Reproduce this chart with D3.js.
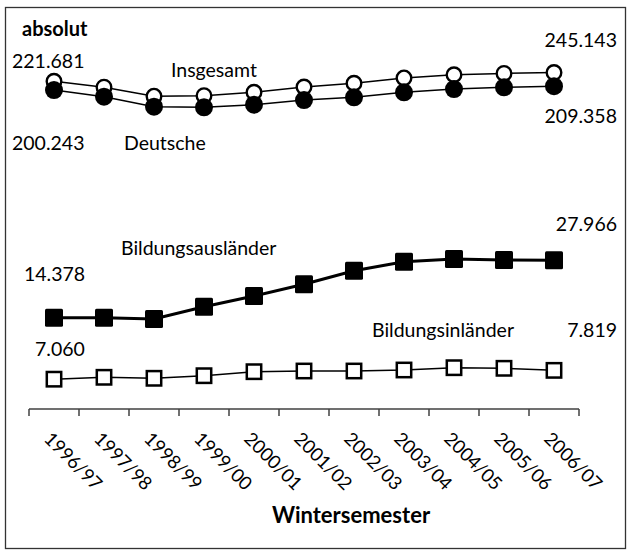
<!DOCTYPE html>
<html>
<head>
<meta charset="utf-8">
<script src="https://cdn.jsdelivr.net/npm/d3@7"></script>
<style>
  html, body { margin: 0; padding: 0; background: #fff; }
  svg { display: block; }
  text { font-family: Lato, "Open Sans", sans-serif; fill: #000; }
</style>
</head>
<body>
<svg id="chart" width="627" height="551"></svg>
<script>
// ---- data ----
const categories = ["1996/97","1997/98","1998/99","1999/00","2000/01","2001/02","2002/03","2003/04","2004/05","2005/06","2006/07"];
const insgesamt = [221681, 207150, 186560, 187780, 195280, 207430, 216740, 230440, 239130, 242850, 245143];
const deutsche = [200243, 185560, 165260, 164100, 169100, 178500, 184200, 195100, 202700, 206800, 209358];
const bildungsauslaender = [14378, 14380, 14166, 16333, 18485, 21166, 24777, 27492, 28367, 28039, 27966];
const bildungsinlaender = [7060, 7216, 7133, 7350, 7699, 7761, 7761, 7852, 8063, 8007, 7819];
const seriesNames = ["Insgesamt", "Deutsche", "Bildungsausländer", "Bildungsinländer"];
const yDomain = [5000, 500000];
const xTitle = "Wintersemester";
const yUnit = "absolut";

// ---- setup ----
const svg = d3.select("#chart");
const de = d3.formatLocale({decimal: ",", thousands: ".", grouping: [3], currency: ["", "€"]});
const fmt = de.format(",d");

const x = d3.scaleBand().domain(categories).range([29, 579]).padding(0);
const y = d3.scaleLog().domain(yDomain).range([409, 11]);
const cx = c => x(c) + x.bandwidth() / 2;

// frame
svg.append("rect").attr("x", 5.5).attr("y", 7.5).attr("width", 620).attr("height", 541)
  .attr("fill", "none").attr("stroke", "#333").attr("stroke-width", 1.3);

// x axis
const axisG = svg.append("g");
axisG.append("line").attr("x1", x.range()[0]).attr("x2", x.range()[1])
  .attr("y1", 409).attr("y2", 409).attr("stroke", "#404040").attr("stroke-width", 1.5);
const edges = categories.map(c => x(c)).concat([x(categories[categories.length - 1]) + x.bandwidth()]);
axisG.selectAll("line.tick").data(edges).join("line").attr("class", "tick")
  .attr("x1", d => d).attr("x2", d => d).attr("y1", 409).attr("y2", 416)
  .attr("stroke", "#404040").attr("stroke-width", 1.5);
axisG.selectAll("text.cat").data(categories).join("text").attr("class", "cat")
  .attr("transform", d => `translate(${cx(d) - 11},440) rotate(45)`)
  .attr("font-size", 18.5).text(d => d);

svg.append("text").attr("x", 351).attr("y", 523).attr("text-anchor", "middle")
  .attr("font-size", 22).attr("font-weight", "bold").text(xTitle);
svg.append("text").attr("x", 22).attr("y", 36)
  .attr("font-size", 20).attr("font-weight", "bold").text(yUnit);

// ---- series ----
const line = d3.line().x((d, i) => cx(categories[i])).y(d => y(d));

function drawLine(vals, w) {
  svg.append("path").datum(vals).attr("d", line).attr("fill", "none")
    .attr("stroke", "#000").attr("stroke-width", w);
}
drawLine(insgesamt, 1.5);
drawLine(deutsche, 1.5);
drawLine(bildungsauslaender, 3);
drawLine(bildungsinlaender, 1.5);

// markers
svg.append("g").selectAll("circle").data(insgesamt).join("circle")
  .attr("cx", (d, i) => cx(categories[i])).attr("cy", d => y(d)).attr("r", 7.3)
  .attr("fill", "#fff").attr("stroke", "#000").attr("stroke-width", 2.4);
svg.append("g").selectAll("circle").data(deutsche).join("circle")
  .attr("cx", (d, i) => cx(categories[i])).attr("cy", d => y(d)).attr("r", 9)
  .attr("fill", "#000");
svg.append("g").selectAll("rect").data(bildungsauslaender).join("rect")
  .attr("x", (d, i) => cx(categories[i]) - 9).attr("y", d => y(d) - 9)
  .attr("width", 18).attr("height", 18).attr("rx", 1.5).attr("fill", "#000");
svg.append("g").selectAll("rect").data(bildungsinlaender).join("rect")
  .attr("x", (d, i) => cx(categories[i]) - 7.2).attr("y", d => y(d) - 7.2)
  .attr("width", 14.4).attr("height", 14.4).attr("fill", "#fff")
  .attr("stroke", "#000").attr("stroke-width", 2.5);

// ---- labels ----
const last = a => a[a.length - 1];
const lab = (t, xx, yy, anchor) => svg.append("text").attr("x", xx).attr("y", yy)
  .attr("font-size", 19.5).attr("text-anchor", anchor || "start").text(t);

lab(fmt(insgesamt[0]), 12, 68);
lab(fmt(last(insgesamt)), 617, 47, "end");
lab(seriesNames[0], 171, 77);
lab(fmt(deutsche[0]), 12, 150);
lab(fmt(last(deutsche)), 617, 123, "end");
lab(seriesNames[1], 124, 150);
lab(seriesNames[2], 121, 255);
lab(fmt(bildungsauslaender[0]), 24, 281);
lab(fmt(last(bildungsauslaender)), 617, 231, "end");
lab(seriesNames[3], 372, 337);
lab(fmt(bildungsinlaender[0]), 35, 356);
lab(fmt(last(bildungsinlaender)), 617, 337, "end");
</script>
</body>
</html>
